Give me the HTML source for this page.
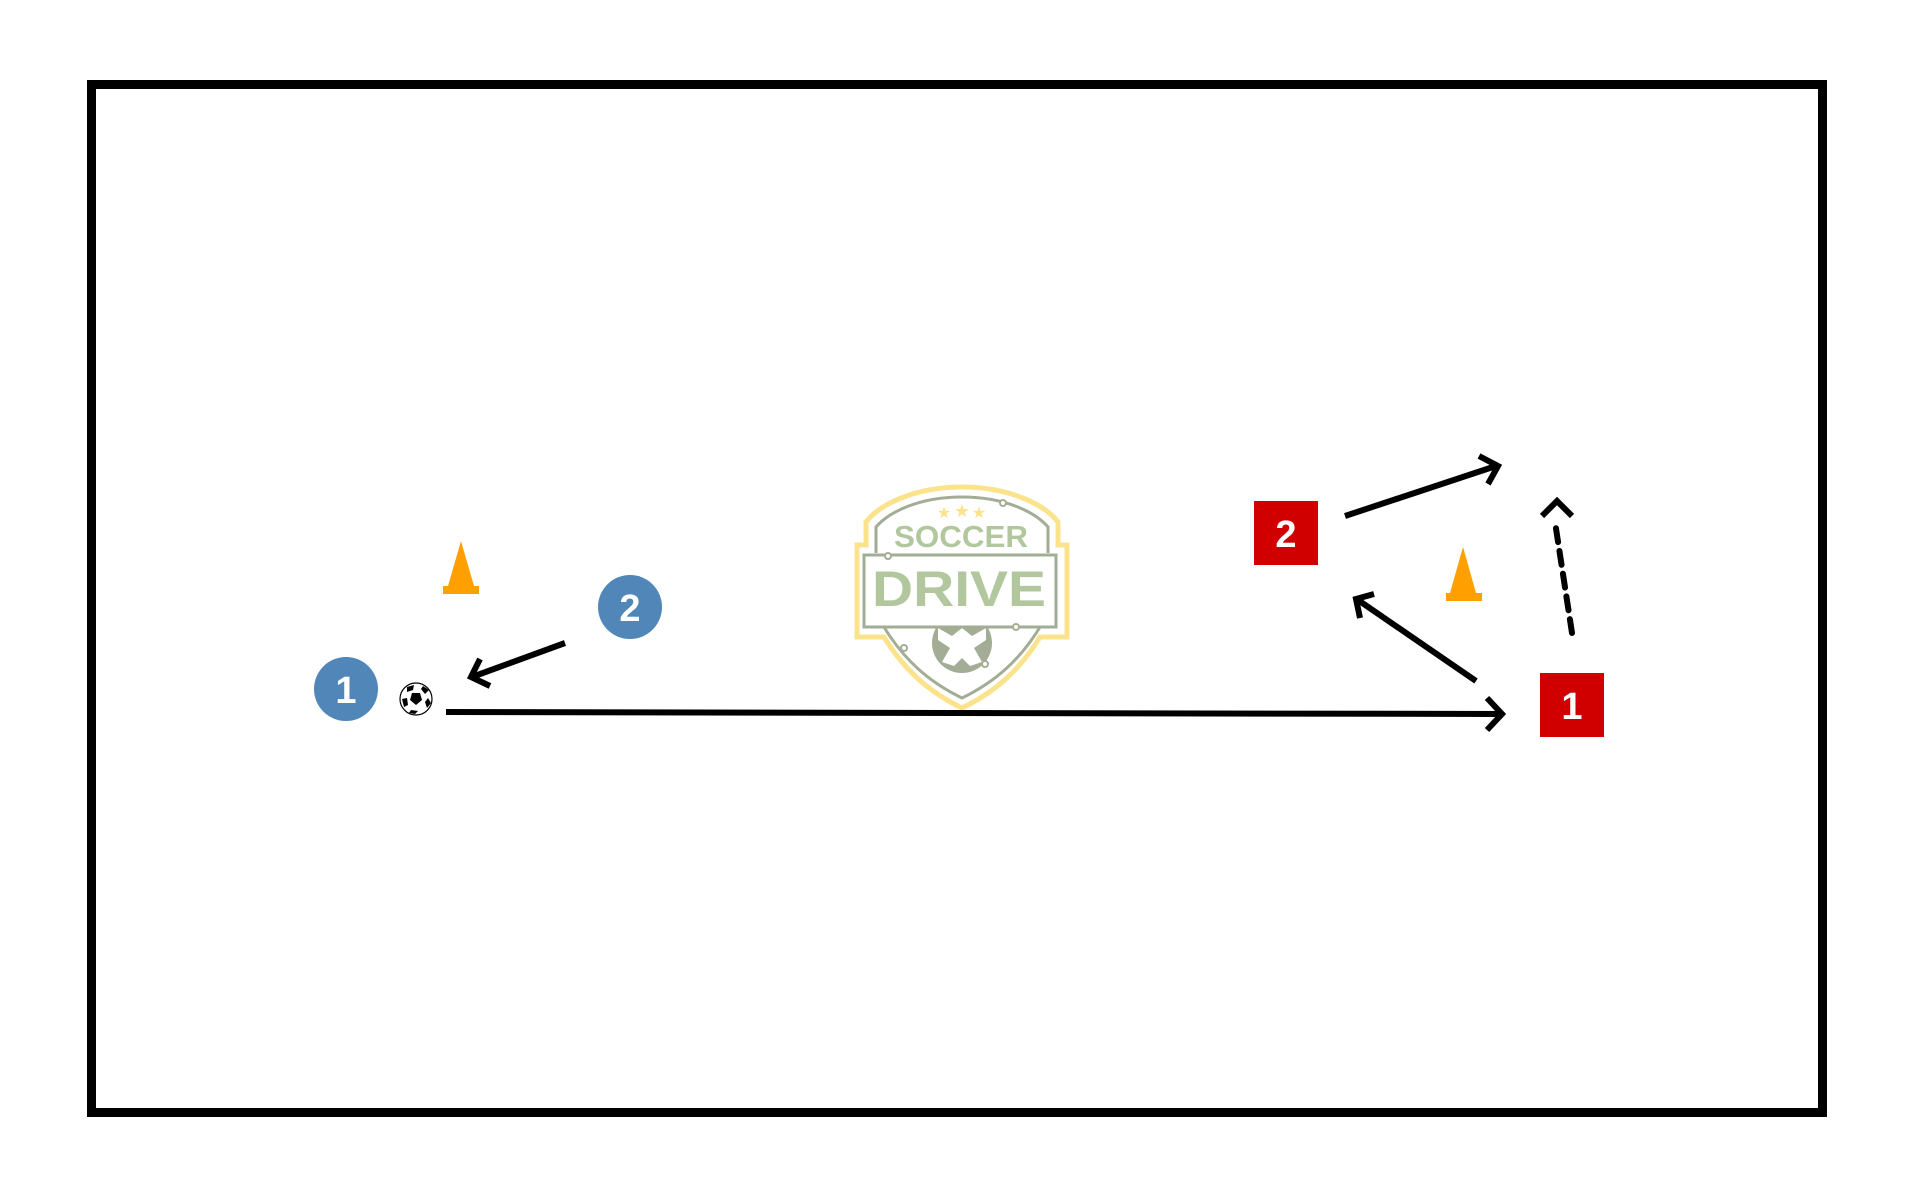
<!DOCTYPE html>
<html><head><meta charset="utf-8"><style>
html,body{margin:0;padding:0;background:#fff;}
svg{display:block;}
</style></head><body>
<svg width="1919" height="1199" viewBox="0 0 1919 1199" xmlns="http://www.w3.org/2000/svg" font-family="Liberation Sans, sans-serif">
<rect x="91.5" y="84.5" width="1731" height="1028" fill="none" stroke="#000" stroke-width="9"/>

<!-- logo -->
<g>
<path d="M962,487 C1010,487 1045,505 1058,522 L1058,545 L1067,545 L1067,637 L1040,637 C1020,670 995,692 962,708 C929,692 904,670 884,637 L857,637 L857,545 L866,545 L866,522 C879,505 914,487 962,487 Z" fill="#fff" stroke="#fbe38c" stroke-width="5"/>
<path d="M962,497 C1005,497 1035,512 1048,527 L1048,553 M876,553 L876,527 C889,512 919,497 962,497" fill="none" stroke="#a3ad95" stroke-width="3"/>
<path d="M1040,627 C1020,660 995,682 962,698 C929,682 904,660 884,627" fill="none" stroke="#a3ad95" stroke-width="3"/>
<circle cx="962" cy="643" r="30" fill="#a3ad95"/>
<path d="M938,628 L952,636 L962,628 L972,636 L986,628 L986,640 L974,648 L982,662 L970,666 L962,658 L954,666 L942,662 L950,648 L938,640 Z" fill="#fff"/>
<rect x="864" y="555" width="192" height="72" fill="#fff" stroke="#a3ad95" stroke-width="3"/>
<circle cx="1003" cy="503" r="3" fill="#fff" stroke="#a3ad95" stroke-width="2"/>
<circle cx="888" cy="556" r="3" fill="#fff" stroke="#a3ad95" stroke-width="2"/>
<circle cx="1016" cy="627" r="3" fill="#fff" stroke="#a3ad95" stroke-width="2"/>
<circle cx="904" cy="648" r="3" fill="#fff" stroke="#a3ad95" stroke-width="2"/>
<circle cx="985" cy="664" r="3" fill="#fff" stroke="#a3ad95" stroke-width="2"/>
<text x="944" y="518" font-size="16" fill="#fbe38c" text-anchor="middle">★</text>
<text x="962" y="517" font-size="18" fill="#fbe38c" text-anchor="middle">★</text>
<text x="979" y="518" font-size="16" fill="#fbe38c" text-anchor="middle">★</text>
<text x="961" y="547" font-size="31" font-weight="bold" fill="#b3c79f" text-anchor="middle" textLength="134" lengthAdjust="spacingAndGlyphs">SOCCER</text>
<text x="959" y="606" font-size="50" font-weight="bold" fill="#b3c79f" text-anchor="middle" textLength="174" lengthAdjust="spacingAndGlyphs">DRIVE</text>
</g>

<!-- cones -->
<path d="M461,541 L474,586 L448,586 Z" fill="#ff9f00"/>
<rect x="443" y="586" width="36" height="8" fill="#ff9f00"/>
<path d="M1463,547 L1476,593 L1450,593 Z" fill="#ff9f00"/>
<rect x="1446" y="593" width="36" height="8" fill="#ff9f00"/>

<!-- blue players -->
<circle cx="346" cy="689" r="32" fill="#5186b8"/>
<text x="346" y="703" font-size="38" font-weight="bold" fill="#fff" text-anchor="middle">1</text>
<circle cx="630" cy="607" r="32" fill="#5186b8"/>
<text x="630" y="621" font-size="38" font-weight="bold" fill="#fff" text-anchor="middle">2</text>

<!-- ball -->
<circle cx="416" cy="699" r="16" fill="#fff" stroke="#000" stroke-width="1.2"/>
<path d="M412,693 L420,693 L422,700 L416,705 L410,700 Z" fill="#000"/>
<path d="M407,687 L414,685 L413,690 L407,692 Z M423,686 L429,690 L425,694 L421,689 Z M402,699 L407,698 L408,705 L404,707 Z M428,698 L431,703 L427,708 L425,702 Z M411,710 L418,711 L415,714 L409,713 Z" fill="#000"/>

<!-- red players -->
<rect x="1254" y="501" width="64" height="64" fill="#d00000"/>
<text x="1286" y="547" font-size="38" font-weight="bold" fill="#fff" text-anchor="middle">2</text>
<rect x="1540" y="673" width="64" height="64" fill="#d00000"/>
<text x="1572" y="719" font-size="38" font-weight="bold" fill="#fff" text-anchor="middle">1</text>

<!-- arrows -->
<g stroke="#000" stroke-width="6" fill="none">
<line x1="565" y1="643" x2="472" y2="677"/>
<polyline points="480,659 471,677 490,686"/>
<line x1="446" y1="712" x2="1500" y2="714"/>
<polyline points="1487,698 1502,714 1487,730"/>
<line x1="1345" y1="516" x2="1496" y2="466"/>
<polyline points="1479,456 1498,466 1488,484"/>
<line x1="1476" y1="681" x2="1358" y2="600"/>
<polyline points="1374,594 1356,599 1360,618"/>
<line x1="1572" y1="633" x2="1555" y2="522" stroke-dasharray="14,9" stroke-linecap="round"/>
<polyline points="1542,516 1557,501 1572,516"/>
</g>
</svg>
</body></html>
